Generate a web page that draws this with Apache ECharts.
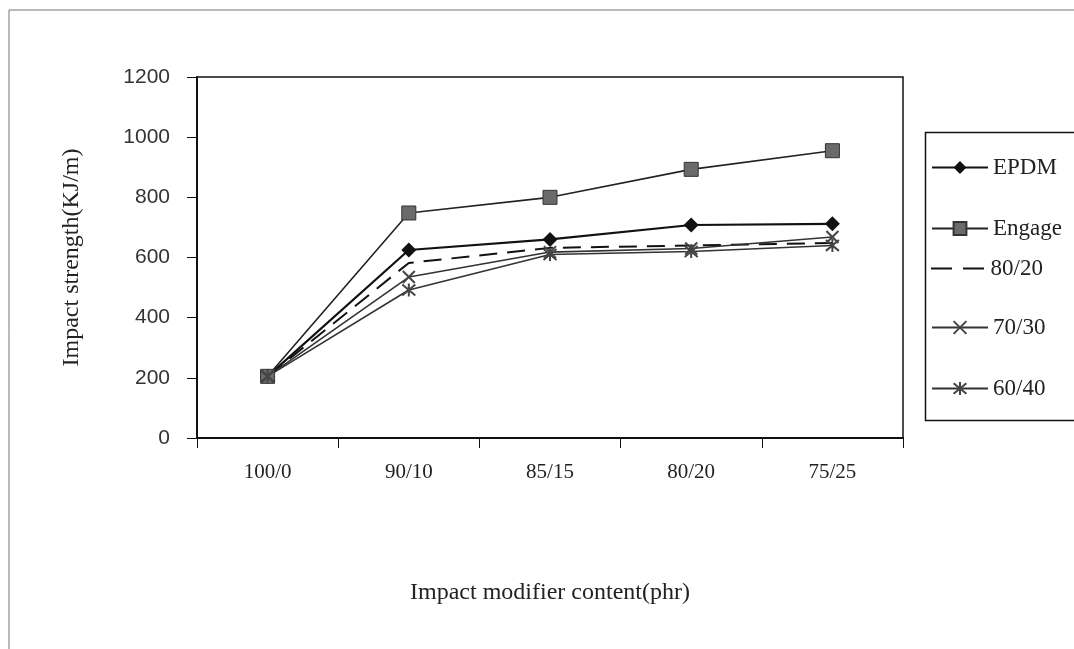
<!DOCTYPE html>
<html>
<head>
<meta charset="utf-8">
<script src="https://cdn.jsdelivr.net/npm/echarts@6/dist/echarts.min.js"></script>
<style>
  html, body { margin: 0; padding: 0; background: #fff; }
  #chart { width: 1074px; height: 649px; }
</style>
</head>
<body>
<div id="chart"></div>
<script>
// categories on the x axis
const categories = ['100/0', '90/10', '85/15', '80/20', '75/25'];

// impact strength values
const epdm   = [205, 625, 660, 708, 712];
const engage = [205, 748, 800, 893, 955];
const b8020  = [205, 582, 632, 640, 648];
const b7030  = [205, 535, 618, 630, 668];
const b6040  = [205, 492, 610, 620, 640];

const yTicks = { min: 0, max: 1200, step: 200 };

const serif = '"Liberation Serif", "Times New Roman", serif';
const sans = '"Liberation Sans", Arial, sans-serif';

// x marker and star marker
const xMark = 'path://M0,0L10,10M10,0L0,10';
const starMark = 'path://M0,0L10,10M10,0L0,10M5,-1L5,11';
// two dashes for the 80/20 legend icon
const dashIcon = 'path://M0,0H21V2H0Z M32,0H53V2H32Z';

const chart = echarts.init(document.getElementById('chart'));

function oneLegend(name, top, icon) {
	let lg = {
		data: [icon ? { name: name, icon: icon } : name],
		left: 926,
		top: top,
		itemWidth: 56,
		itemHeight: icon ? 2 : 16,
		itemGap: 0,
		textStyle: { fontFamily: serif, fontSize: 23, color: '#222' }
	};
	return lg;
}

let option = {
	backgroundColor: '#fff',
	animation: false,
	grid: {
		left: 197, right: 171, top: 77, bottom: 211,
		show: true, borderColor: '#111', borderWidth: 1.5
	},
	legend: [
		oneLegend('EPDM', 151),
		oneLegend('Engage', 212),
		oneLegend('80/20', 252, dashIcon),
		oneLegend('70/30', 311),
		oneLegend('60/40', 372)
	],
	xAxis: {
		type: 'category',
		data: categories,
		boundaryGap: true,
		name: 'Impact modifier content(phr)',
		nameLocation: 'middle',
		nameGap: 143,
		nameTextStyle: { fontFamily: serif, fontSize: 24, color: '#222' },
		axisLine: { lineStyle: { color: '#111', width: 2 } },
		axisTick: { show: true, length: 10, lineStyle: { color: '#111' } },
		axisLabel: { margin: 24, fontFamily: serif, fontSize: 21, color: '#222' }
	},
	yAxis: {
		type: 'value',
		min: yTicks.min,
		max: yTicks.max,
		interval: yTicks.step,
		name: 'Impact strength(KJ/m)',
		nameLocation: 'middle',
		nameRotate: 90,
		nameGap: 113,
		nameTextStyle: { fontFamily: serif, fontSize: 24, color: '#222' },
		axisLine: { show: true, lineStyle: { color: '#111', width: 2 } },
		axisTick: { show: true, length: 10, lineStyle: { color: '#111' } },
		axisLabel: {
			margin: 27, fontFamily: sans, fontSize: 21, color: '#333',
			formatter: function (v) { return String(v); }
		},
		splitLine: { show: false }
	},
	series: [
		{
			name: 'EPDM', type: 'line', data: epdm,
			symbol: 'diamond', symbolSize: 15,
			lineStyle: { color: '#111', width: 2.2 },
			itemStyle: { color: '#111' }
		},
		{
			name: 'Engage', type: 'line', data: engage,
			symbol: 'rect', symbolSize: 14,
			lineStyle: { color: '#222', width: 1.6 },
			itemStyle: { color: '#6a6a6a', borderColor: '#333', borderWidth: 1 }
		},
		{
			name: '80/20', type: 'line', data: b8020,
			symbol: 'none',
			lineStyle: { color: '#111', width: 2, type: [18, 10] },
			itemStyle: { color: '#111' }
		},
		{
			name: '70/30', type: 'line', data: b7030,
			symbol: xMark, symbolSize: 12,
			lineStyle: { color: '#333', width: 1.6 },
			itemStyle: { color: 'rgba(0,0,0,0)', borderColor: '#444', borderWidth: 2 }
		},
		{
			name: '60/40', type: 'line', data: b6040,
			symbol: starMark, symbolSize: 13,
			lineStyle: { color: '#333', width: 1.6 },
			itemStyle: { color: 'rgba(0,0,0,0)', borderColor: '#444', borderWidth: 2 }
		}
	],
	graphic: [
		// legend frame
		{
			type: 'rect', left: 923, top: 130,
			shape: { width: 160, height: 288 },
			style: { fill: 'none', stroke: '#111', lineWidth: 1.5 },
			z: -1
		},
		// outer page frame
		{
			type: 'polyline',
			shape: { points: [[9, 649], [9, 10], [1074, 10]] },
			style: { fill: 'none', stroke: '#777', lineWidth: 1 }
		}
	]
};

chart.setOption(option);
</script>
</body>
</html>
